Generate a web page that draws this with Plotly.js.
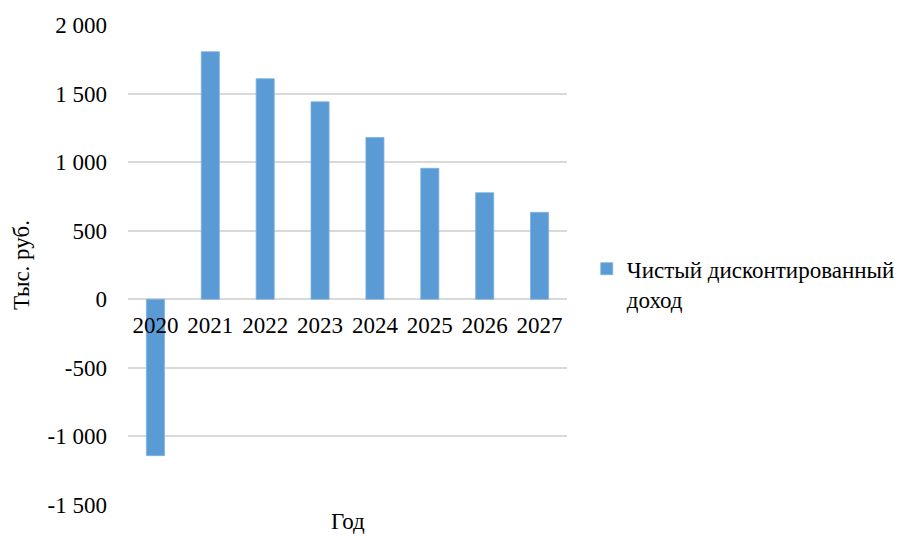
<!DOCTYPE html>
<html>
<head>
<meta charset="utf-8">
<script src="https://cdn.plot.ly/plotly-3.0.1.min.js"></script>
<style>html,body{margin:0;padding:0;background:#fff;}#chart{width:913px;height:536px;}</style>
</head>
<body>
<div id="chart"></div>
<script>
const years = ['2020','2021','2022','2023','2024','2025','2026','2027'];
const npvValues = [-1140, 1805, 1608, 1440, 1180, 955, 777, 634];
const seriesName = 'Чистый дисконтированный<br>доход';
const yTickVals = [-1500, -1000, -500, 0, 500, 1000, 1500, 2000];
const yTickText = ['-1 500', '-1 000', '-500', '0', '500', '1 000', '1 500', '2 000'];
const yMin = -1500, yMax = 2000;

const font = {family: 'Liberation Serif', size: 23, color: '#000'};

const trace = {
  type: 'bar',
  x: years,
  y: npvValues,
  name: seriesName,
  marker: {color: '#5b9bd5', line: {color: '#7fb1df', width: 0.8}},
  showlegend: true
};

const layout = {
  width: 913, height: 536,
  margin: {l: 128, r: 346, t: 24.5, b: 31.3, pad: 0},
  paper_bgcolor: '#fff', plot_bgcolor: '#fff',
  font: font,
  bargap: 0.67,
  showlegend: true,
  xaxis: {
    type: 'category',
    anchor: 'free',
    position: (0 - yMin) / (yMax - yMin),
    showgrid: false, zeroline: false, showline: false,
    ticks: '', ticklabelstandoff: 10,
    tickfont: font,
    automargin: false
  },
  yaxis: {
    range: [yMin, yMax],
    tickvals: yTickVals, ticktext: yTickText,
    showgrid: true, gridcolor: '#d9d9d9', gridwidth: 2,
    zeroline: true, zerolinecolor: '#d9d9d9', zerolinewidth: 2,
    showline: false, ticks: '', ticklabelstandoff: 20,
    tickfont: font,
    automargin: false,
    title: {text: 'Тыс. руб.', font: font, standoff: 11}
  },
  legend: {
    x: 1.045, xanchor: 'left', y: 0.537, yanchor: 'top',
    font: font, bgcolor: 'rgba(0,0,0,0)', valign: 'top'
  },
  annotations: [{
    text: 'Год', xref: 'paper', yref: 'paper', x: 0.5, y: 0, yshift: -2,
    xanchor: 'center', yanchor: 'top', showarrow: false, font: font
  }]
};

Plotly.newPlot('chart', [trace], layout, {displayModeBar: false, staticPlot: true});
</script>
</body>
</html>
